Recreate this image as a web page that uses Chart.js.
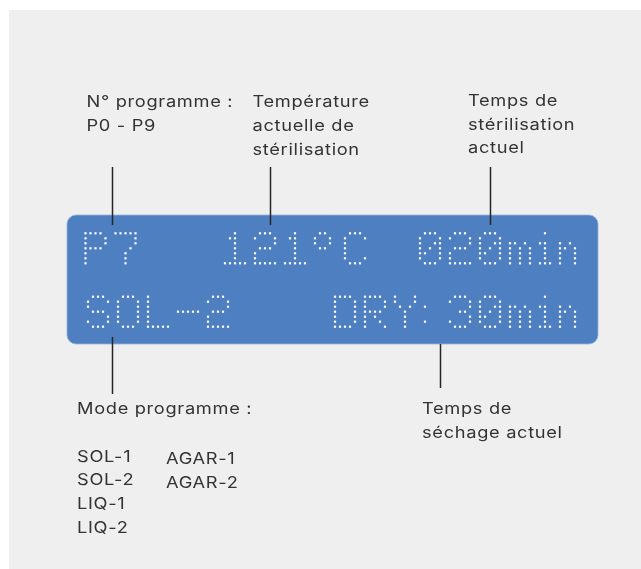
<html>
<head>
<script src="https://cdn.jsdelivr.net/npm/chart.js"></script>
<style>
  body { margin: 0; background: #ffffff; }
  #wrap { width: 641px; height: 569px; }
</style>
</head>
<body>
<div id="wrap"><canvas id="myChart" width="641" height="569"></canvas></div>
<script>
// ---- data: what the display shows and what the callouts say ----
var lcdTop = ["P7", "121°C", "020min"];
var lcdBottom = ["SOL-2", "DRY:", "30min"];

var calloutProgram = ["N° programme :", "P0 - P9"];
var calloutTemp = ["Température", "actuelle de", "stérilisation"];
var calloutSterTime = ["Temps de", "stérilisation", "actuel"];
var calloutMode = ["Mode programme :"];
var calloutDryTime = ["Temps de", "séchage actuel"];

var modesLeft = ["SOL-1", "SOL-2", "LIQ-1", "LIQ-2"];
var modesRight = ["AGAR-1", "AGAR-2"];

// ---- layout (pixel space of the 641x569 picture) ----
var lcdTopX = [85.5, 225, 420], lcdTopY = 233.3;
var lcdBottomX = [88, 335, 450], lcdBottomY = 296.7;
var dotPitch = 5;

var panel = { x0: 67, y0: 215, x1: 598, y1: 344, r: 9 };

var leaders = [
    [112.5, 167, 112.5, 225],
    [270.5, 167, 270.5, 225],
    [490.5, 167, 490.5, 225],
    [112.5, 337, 112.5, 394],
    [440.5, 344, 440.5, 388]
];

var textBlocks = [
    { lines: calloutProgram, x: 86.5, y: 107, lh: 24 },
    { lines: calloutTemp, x: 252.5, y: 107, lh: 24 },
    { lines: calloutSterTime, x: 468, y: 106, lh: 23.7 },
    { lines: calloutMode, x: 77, y: 413.5, lh: 24 },
    { lines: calloutDryTime, x: 422, y: 413.5, lh: 24 },
    { lines: modesLeft, x: 77, y: 461.7, lh: 23.7 },
    { lines: modesRight, x: 166, y: 464, lh: 23.5 }
];

// 7-row dot font, '#' = lit dot
var glyphs = {
    'P': ["####.", "#...#", "#...#", "####.", "#....", "#....", "#...."],
    '7': ["#####", "....#", "....#", "...#.", "..#..", "..#..", "..#.."],
    '1': ["..#..", ".##..", "..#..", "..#..", "..#..", "..#..", "#####"],
    '2': [".###.", "#...#", "....#", ".###.", "#....", "#....", "#####"],
    '3': [".###.", "#...#", "....#", "..##.", "....#", "#...#", ".###."],
    '0': [".###.", "#...#", "#..##", "#.#.#", "##..#", "#...#", ".###."],
    '°': [".##..", "#..#.", "#..#.", ".##..", ".....", ".....", "....."],
    'C': [".###.", "#...#", "#....", "#....", "#....", "#...#", ".###."],
    'm': [".....", ".....", "##.#.", "#.#.#", "#.#.#", "#.#.#", "#.#.#"],
    'i': [".#.", "...", "##.", ".#.", ".#.", ".#.", "###"],
    'n': ["....", "....", "#.#.", "##.#", "#..#", "#..#", "#..#"],
    'S': [".###.", "#...#", "#....", ".###.", "....#", "#...#", ".###."],
    'O': [".###.", "#...#", "#...#", "#...#", "#...#", "#...#", ".###."],
    'L': ["#....", "#....", "#....", "#....", "#....", "#....", "#####"],
    '-': [".....", ".....", ".....", "#####", ".....", ".....", "....."],
    'D': ["####.", "#...#", "#...#", "#...#", "#...#", "#...#", "####."],
    'R': ["####.", "#...#", "#...#", "####.", "#.#..", "#..#.", "#...#"],
    'Y': ["#...#", "#...#", ".#.#.", "..#..", "..#..", "..#..", "..#.."],
    ':': [".", ".", "#", ".", ".", "#", "."],
    ' ': [".....", ".....", ".....", ".....", ".....", ".....", "....."]
};

function dotsForWord(word, x0, y0) {
    var pts = [];
    var x = x0;
    for (var c = 0; c < word.length; c++) {
        var g = glyphs[word[c]] || glyphs[' '];
        for (var row = 0; row < g.length; row++) {
            for (var col = 0; col < g[row].length; col++) {
                if (g[row][col] == '#') {
                    pts.push({ x: x + col * dotPitch, y: y0 + row * dotPitch });
                }
            }
        }
        x += (g[0].length + 1) * dotPitch;
    }
    return pts;
}

var lcdDots = [];
for (var i = 0; i < lcdTop.length; i++) {
    lcdDots = lcdDots.concat(dotsForWord(lcdTop[i], lcdTopX[i], lcdTopY));
}
for (var j = 0; j < lcdBottom.length; j++) {
    lcdDots = lcdDots.concat(dotsForWord(lcdBottom[j], lcdBottomX[j], lcdBottomY));
}

var datasets = [{
    type: 'scatter',
    data: lcdDots,
    pointStyle: 'rect',
    pointRadius: 1.55,
    pointHoverRadius: 1.55,
    pointBorderWidth: 0,
    pointBackgroundColor: '#ffffff',
    order: 1
}];

leaders.forEach(function (l) {
    datasets.push({
        type: 'line',
        data: [{ x: l[0], y: l[1] }, { x: l[2], y: l[3] }],
        borderColor: '#262626',
        borderWidth: 1.5,
        pointRadius: 0,
        fill: false,
        order: 2
    });
});

var backdrop = {
    id: 'backdrop',
    beforeDraw: function (chart) {
        var ctx = chart.ctx;
        var xs = chart.scales.x, ys = chart.scales.y;
        ctx.save();
        ctx.fillStyle = '#ffffff';
        ctx.fillRect(0, 0, chart.width, chart.height);
        ctx.fillStyle = '#efefef';
        ctx.fillRect(xs.getPixelForValue(9), ys.getPixelForValue(10), chart.width, chart.height);
        ctx.restore();
    },
    beforeDatasetsDraw: function (chart) {
        var ctx = chart.ctx;
        var xs = chart.scales.x, ys = chart.scales.y;
        var x0 = xs.getPixelForValue(panel.x0), x1 = xs.getPixelForValue(panel.x1);
        var y0 = ys.getPixelForValue(panel.y0), y1 = ys.getPixelForValue(panel.y1);
        ctx.save();
        ctx.beginPath();
        ctx.roundRect(x0, y0, x1 - x0, y1 - y0, panel.r);
        ctx.fillStyle = '#4e7fc1';
        ctx.fill();
        ctx.strokeStyle = 'rgba(150, 180, 220, 0.8)';
        ctx.lineWidth = 1;
        ctx.stroke();
        ctx.restore();
    },
    afterDatasetsDraw: function (chart) {
        var ctx = chart.ctx;
        var xs = chart.scales.x, ys = chart.scales.y;
        ctx.save();
        ctx.fillStyle = '#333333';
        ctx.font = '16px Inter, "Open Sans", sans-serif';
        ctx.letterSpacing = '0.6px';
        ctx.textBaseline = 'alphabetic';
        ctx.textAlign = 'left';
        textBlocks.forEach(function (b) {
            b.lines.forEach(function (t, k) {
                // stretch a little: the original face is a wide geometric sans
                ctx.save();
                ctx.translate(xs.getPixelForValue(b.x), ys.getPixelForValue(b.y + k * b.lh));
                ctx.scale(1.14, 1);
                ctx.fillText(t, 0, 0);
                ctx.restore();
            });
        });
        ctx.restore();
    }
};

var chart = new Chart(document.getElementById('myChart').getContext('2d'), {
    data: { datasets: datasets },
    options: {
        responsive: false,
        animation: false,
        events: [],
        layout: { padding: 0, autoPadding: false },
        plugins: { legend: { display: false }, tooltip: { enabled: false } },
        scales: {
            x: { type: 'linear', min: 0, max: 641, display: false },
            y: { type: 'linear', min: 0, max: 569, reverse: true, display: false }
        }
    },
    plugins: [backdrop]
});
</script>
</body>
</html>
